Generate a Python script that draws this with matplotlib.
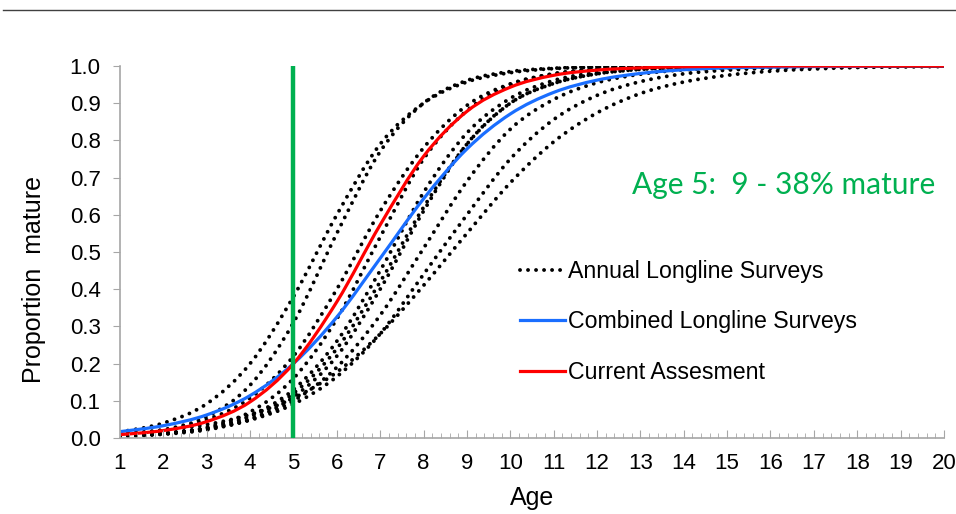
import matplotlib.pyplot as plt
from matplotlib.lines import Line2D
from matplotlib.patches import PathPatch
from matplotlib.path import Path
from matplotlib.ticker import MultipleLocator

plt.rcParams['font.family'] = ['Liberation Sans', 'DejaVu Sans']

# Ages 1..20
ages = list(range(1, 21))

# Annual longline survey maturity curves
annual_surveys = [
    [0.016, 0.040, 0.092, 0.20, 0.38, 0.60, 0.79, 0.90, 0.957, 0.982, 0.993, 0.997, 0.999, 1.0, 1.0, 1.0, 1.0, 1.0, 1.0, 1.0],
    [0.008, 0.022, 0.057, 0.142, 0.31, 0.55, 0.77, 0.90, 0.961, 0.985, 0.994, 0.998, 0.999, 1.0, 1.0, 1.0, 1.0, 1.0, 1.0, 1.0],
    [0.009, 0.021, 0.049, 0.107, 0.22, 0.40, 0.61, 0.78, 0.894, 0.952, 0.979, 0.991, 0.996, 0.998, 0.999, 1.0, 1.0, 1.0, 1.0, 1.0],
    [0.005, 0.012, 0.029, 0.070, 0.16, 0.32, 0.54, 0.75, 0.88, 0.949, 0.979, 0.992, 0.997, 0.999, 1.0, 1.0, 1.0, 1.0, 1.0, 1.0],
    [0.005, 0.012, 0.027, 0.060, 0.13, 0.26, 0.45, 0.66, 0.82, 0.913, 0.961, 0.983, 0.993, 0.997, 0.999, 1.0, 1.0, 1.0, 1.0, 1.0],
    [0.005, 0.011, 0.026, 0.057, 0.12, 0.24, 0.42, 0.62, 0.79, 0.90, 0.953, 0.979, 0.991, 0.996, 0.998, 0.999, 1.0, 1.0, 1.0, 1.0],
    [0.004, 0.010, 0.022, 0.050, 0.11, 0.22, 0.40, 0.61, 0.79, 0.90, 0.953, 0.979, 0.991, 0.996, 0.998, 0.999, 1.0, 1.0, 1.0, 1.0],
    [0.006, 0.012, 0.024, 0.050, 0.10, 0.19, 0.33, 0.51, 0.69, 0.83, 0.91, 0.955, 0.978, 0.990, 0.995, 0.998, 0.999, 1.0, 1.0, 1.0],
    [0.007, 0.013, 0.025, 0.048, 0.091, 0.165, 0.28, 0.44, 0.60, 0.75, 0.856, 0.921, 0.958, 0.979, 0.989, 0.994, 0.997, 0.998, 0.999, 1.0],
    [0.012, 0.021, 0.036, 0.063, 0.107, 0.177, 0.28, 0.41, 0.55, 0.686, 0.796, 0.874, 0.926, 0.957, 0.975, 0.986, 0.992, 0.996, 0.9975, 0.9986],
]

combined = [0.017, 0.033, 0.062, 0.114, 0.20, 0.325, 0.483, 0.643, 0.777, 0.871,
            0.929, 0.962, 0.980, 0.990, 0.995, 0.997, 0.9985, 0.999, 1.0, 1.0]
current = [0.009, 0.020, 0.044, 0.097, 0.20, 0.366, 0.573, 0.757, 0.878, 0.943,
           0.975, 0.989, 0.995, 0.998, 0.999, 1.0, 1.0, 1.0, 1.0, 1.0]

legend_labels = ["Annual Longline Surveys", "Combined Longline Surveys", "Current Assesment"]
ref_age = 5
note = "Age 5:  9 - 38% mature"

green = "#00B050"
blue = "#1A6EFF"
red = "#FF0000"
grey = "#A6A6A6"
dotted = (0, (0.01, 2.05))


def smooth_path(xs, ys):
    # Excel-like "smoothed line": bezier segments through the data points
    pts = list(zip(xs, ys))
    n = len(pts)
    verts = [pts[0]]
    codes = [Path.MOVETO]
    for i in range(n - 1):
        p0 = pts[max(i - 1, 0)]
        p1 = pts[i]
        p2 = pts[i + 1]
        p3 = pts[min(i + 2, n - 1)]
        c1 = (p1[0] + (p2[0] - p0[0]) / 6, p1[1] + (p2[1] - p0[1]) / 6)
        c2 = (p2[0] - (p3[0] - p1[0]) / 6, p2[1] - (p3[1] - p1[1]) / 6)
        verts += [c1, c2, p2]
        codes += [Path.CURVE4] * 3
    return Path(verts, codes)


fig = plt.figure(figsize=(9.56, 5.14), dpi=100)
ax = fig.add_axes([0.1255, 0.1479, 0.8619, 0.7237])

for s in annual_surveys:
    ax.add_patch(PathPatch(smooth_path(ages, s), fill=False, edgecolor="black",
                           linewidth=2.8, linestyle=dotted, capstyle="round"))
ax.add_patch(PathPatch(smooth_path(ages, combined), fill=False, edgecolor=blue, linewidth=2.3))
ax.add_patch(PathPatch(smooth_path(ages, current), fill=False, edgecolor=red, linewidth=2.3))
ax.plot([ref_age, ref_age], [0, 1], color=green, linewidth=3.2, zorder=5)

ax.text(0.989, 0.68, note, transform=ax.transAxes, ha="right", va="center",
        color=green, fontsize=21.5, family=["Lato", "DejaVu Sans"])

ax.set_xlim(1, 20)
ax.set_ylim(0, 1)
ax.xaxis.set_major_locator(MultipleLocator(1))
ax.xaxis.set_minor_locator(MultipleLocator(0.2))
ax.yaxis.set_major_locator(MultipleLocator(0.1))
ax.yaxis.set_major_formatter(plt.FuncFormatter(lambda v, p: f"{v:.1f}"))

ax.tick_params(axis="x", which="major", direction="in", length=6, color=grey,
               labelsize=16, pad=11)
ax.tick_params(axis="x", which="minor", direction="in", length=3.5, color=grey)
ax.tick_params(axis="y", direction="out", length=5, color=grey, labelsize=16, pad=9)

for side in ["top", "right"]:
    ax.spines[side].set_visible(False)
for side in ["left", "bottom"]:
    ax.spines[side].set_color(grey)
    ax.spines[side].set_linewidth(1.2)

ax.set_xlabel("Age", fontsize=18)
ax.xaxis.set_label_coords(0.5, -0.128)
ax.set_ylabel("Proportion  mature", fontsize=18)
ax.yaxis.set_label_coords(-0.090, 0.427)

handles = [
    Line2D([], [], color="black", linewidth=2.8, linestyle=dotted, dash_capstyle="round"),
    Line2D([], [], color=blue, linewidth=2.3),
    Line2D([], [], color=red, linewidth=2.3),
]
ax.legend(handles, legend_labels, loc="center left", bbox_to_anchor=(0.485, 0.312),
          frameon=False, fontsize=16.7, handlelength=1.94, handletextpad=0.15,
          labelspacing=1.19, borderpad=0, borderaxespad=0)

fig.add_artist(Line2D([0.003, 1.0], [0.981, 0.981], color="#404040", linewidth=1))

fig.savefig("out.png", dpi=100)
